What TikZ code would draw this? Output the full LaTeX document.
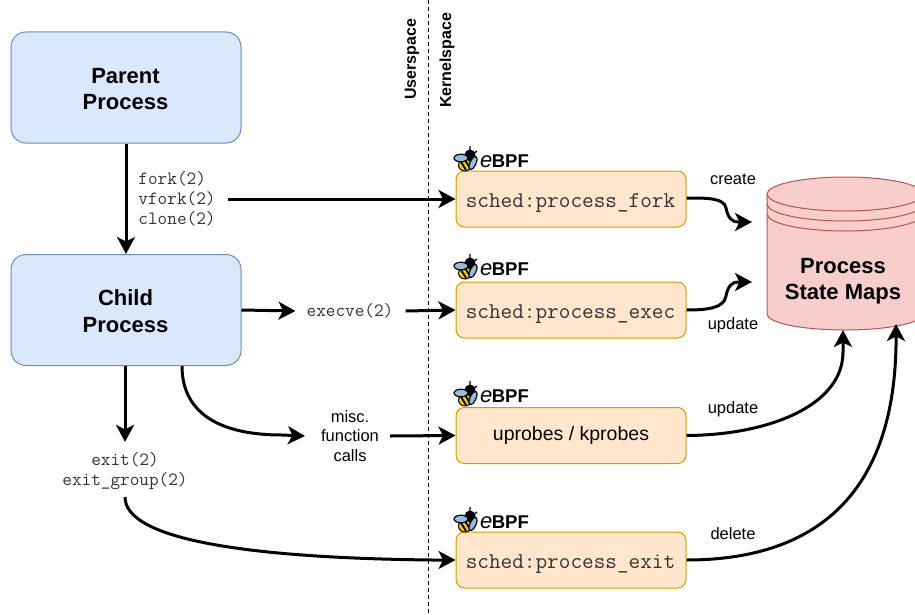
\documentclass[tikz,border=0pt]{standalone}
\usepackage{fontspec}
\setmainfont{Liberation Sans}
\usetikzlibrary{arrows.meta}
\definecolor{bluefill}{HTML}{DAE8FC}
\definecolor{blueline}{HTML}{6C8EBF}
\definecolor{orangefill}{HTML}{FFE6CC}
\definecolor{orangeline}{HTML}{D79B00}
\definecolor{redfill}{HTML}{F8CECC}
\definecolor{redline}{HTML}{B85450}
\definecolor{monotext}{HTML}{333333}
\definecolor{beeyellow}{HTML}{F2C811}
\definecolor{beeblue}{HTML}{8FBDE3}
\tikzset{
  x=1pt,y=-1pt,
  procbox/.style={draw=blueline,fill=bluefill,line width=1pt,rounded corners=15pt,minimum width=230pt,minimum height=111pt,inner sep=0pt},
  proctext/.style={inner sep=0pt,align=center,font=\fontsize{22}{26.5}\selectfont\bfseries},
  hookbox/.style={draw=orangeline,fill=orangefill,line width=1pt,rounded corners=8.5pt,minimum width=230pt,minimum height=56pt,inner sep=0pt,align=center},
  hookmono/.style={inner sep=0pt,font=\fontsize{22.6}{24}\selectfont\ttfamily,text=monotext},
  mono/.style={inner sep=0pt,text=monotext,font=\fontsize{18.7}{20}\selectfont\ttfamily},
  plain/.style={inner sep=0pt,align=center,font=\fontsize{16.5}{19.5}\selectfont},
  sidelabel/.style={inner sep=0pt,rotate=90,anchor=west,font=\fontsize{16}{19}\selectfont\bfseries},
  conn/.style={line width=3pt,draw=black,-{Stealth[length=17pt,width=18pt,inset=4.5pt]}},
}
\newcommand{\ebpflogo}[2]{%
  \begin{scope}[shift={(#1,#2)}]
    \draw[line width=1.3pt,black] (6,-5)--(6,-14) (8,-5)--(13,-9);
    \fill[black] (6,-5) circle (5.5pt);
    \fill[beeyellow,draw=black,line width=1pt] (1,5) ellipse (6.5pt and 6pt);
    \draw[black,line width=1.8pt] (-3,2)--(2,10) (1,0)--(6,8);
    \fill[beeblue,draw=black,line width=1.2pt] (-3,-2) ellipse (7pt and 3.8pt);
    \fill[beeblue,draw=black,line width=1.2pt,rotate around={65:(9,3)}] (9,3) ellipse (7pt and 3pt);
    \node[anchor=base west,inner sep=0pt] at (16,7.5) {\fontsize{22}{22}\selectfont\textit{e}\kern-.6pt\fontsize{18.5}{18.5}\selectfont\bfseries BPF};
  \end{scope}}
\begin{document}
\begin{tikzpicture}
\useasboundingbox (0,0) rectangle (915,615);
\begin{scope}
\clip (0,0) rectangle (915,615);
% datastore
\path[fill=redfill,draw=redline,line width=1pt] (767,194) -- (767,314) arc[start angle=180,end angle=0,x radius=78,y radius=16] -- (923,194) arc[start angle=0,end angle=-180,x radius=78,y radius=17] -- cycle;
\draw[redline,line width=1pt] (767,194) arc[start angle=180,end angle=0,x radius=78,y radius=17];
\draw[redline,line width=1pt] (767,204) arc[start angle=180,end angle=0,x radius=78,y radius=17];
\draw[redline,line width=1pt] (767,214) arc[start angle=180,end angle=0,x radius=78,y radius=17];
\end{scope}
\node[proctext] (maps) at (843,281) {Process\\State Maps};
\coordinate (mapsA) at (752,222);
\coordinate (mapsB) at (752,282);
\coordinate (mapsC) at (843,330);
\coordinate (mapsD) at (896,324);
% divider
\coordinate (divtop) at (428,0);
\coordinate (divbot) at (428,615);
\draw[line width=1pt,dash pattern=on 4pt off 3pt] (divtop) -- (divbot);
\node[sidelabel] (user) at (412,100) {Userspace};
\node[sidelabel] (kern) at (447,108) {Kernelspace};
% process boxes
\node[procbox] (parent) at (126,87.5) {};
\node[proctext] (parenttext) at (125.5,89) {Parent\\Process};
\node[procbox] (child) at (126,310) {};
\node[proctext] (childtext) at (125.5,311) {Child\\Process};
% hook boxes
\node[hookbox] (fork) at (571,199) {};
\node[hookmono] (forktext) at (570.5,203) {sched:process\_fork};
\node[hookbox] (exec) at (571,310) {};
\node[hookmono] (exectext) at (570.5,314) {sched:process\_exec};
\node[hookbox] (uprobe) at (571,435.5) {\fontsize{19.5}{22}\selectfont uprobes / kprobes};
\node[hookbox] (exit) at (571,560) {};
\node[hookmono] (exittext) at (570.5,564) {sched:process\_exit};
% logos
\ebpflogo{464}{160}
\ebpflogo{464}{268}
\ebpflogo{464}{395}
\ebpflogo{464}{521}
% labels
\node[mono,align=left] (forklab) at (177,199) {fork(2)\\vfork(2)\\clone(2)};
\node[mono] (execlab) at (350,311) {execve(2)};
\node[plain] (misc) at (350,436) {misc.\\function\\calls};
\node[mono,align=center,font=\fontsize{18.7}{20.5}\selectfont\ttfamily] (exitlab) at (125,471) {exit(2)\\exit\_group(2)};
\node[plain] (createlab) at (733,179) {create};
\node[plain] (updatelaba) at (733,325) {update};
\node[plain] (updatelabb) at (733,409) {update};
\node[plain] (deletelab) at (733,534) {delete};
% connectors
\draw[conn] (parent.south) -- (child.north);
\draw[conn] (forklab.east |- fork.west) ++(12,0) -- (fork.west);
\draw[conn] (child.east) -- ([xshift=-11pt]execlab.west);
\draw[conn] (execlab.east) ++(12,0) -- (exec.west);
\draw[conn] (125,366) -- ([yshift=10pt]exitlab.north);
\draw[conn] (182,366) .. controls (182,410) and (215,435) .. (282,435) -- ([xshift=-16pt]misc.west);
\draw[conn] (misc.east) ++(11,0) -- (uprobe.west);
\draw[conn] (125,497) .. controls (125,540) and (250,558) .. (432,560) -- (exit.west);
\draw[conn] (fork.east) ++(0,-1) .. controls (708,198) and (724,198) .. (726,208) .. controls (728,218) and (732,222) .. (738,222) -- (mapsA);
\draw[conn] (exec.east) .. controls (708,310) and (724,308) .. (726,296) .. controls (728,286) and (732,282) .. (738,282) -- (mapsB);
\draw[conn] (uprobe.east) .. controls (770,435) and (843,405) .. (843,352) -- (mapsC);
\draw[conn] (exit.east) .. controls (810,560) and (893,500) .. (896,346) -- (mapsD);
\end{tikzpicture}
\end{document}
